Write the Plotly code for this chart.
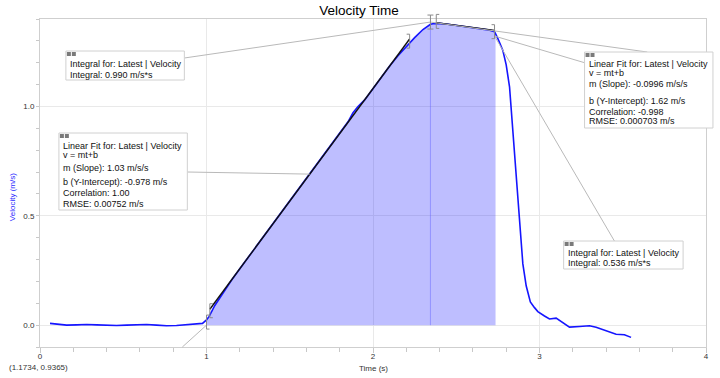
import plotly.graph_objects as go

# ---------------- data ----------------
time = [0.06, 0.10, 0.16, 0.22, 0.28, 0.34, 0.40, 0.46, 0.52, 0.58, 0.64, 0.70, 0.76, 0.82, 0.88, 0.94, 0.976,
        1.0, 1.016, 1.05, 1.10, 1.15, 1.20, 1.25, 1.30, 1.35, 1.40, 1.45, 1.50, 1.55, 1.60, 1.65, 1.70, 1.75,
        1.80, 1.85, 1.88, 1.91, 1.95, 2.00, 2.05, 2.10, 2.15, 2.20, 2.25, 2.30, 2.33, 2.345, 2.36, 2.40, 2.45,
        2.50, 2.55, 2.60, 2.65, 2.70, 2.73, 2.736, 2.75, 2.78, 2.80, 2.82, 2.835, 2.85, 2.865, 2.88, 2.90, 2.92,
        2.945, 2.97, 2.99, 3.03, 3.06, 3.10, 3.14, 3.18, 3.24, 3.30, 3.34, 3.38, 3.42, 3.46, 3.51, 3.55]
velocity = [0.008, 0.004, 0.0, 0.001, 0.003, 0.001, -0.002, -0.002, 0.0, 0.002, 0.003, 0.0, -0.003, -0.002, 0.001, 0.003, 0.008,
            0.024, 0.040, 0.090, 0.150, 0.205, 0.258, 0.310, 0.362, 0.412, 0.464, 0.516, 0.567, 0.619, 0.670, 0.722, 0.773, 0.825,
            0.876, 0.930, 0.972, 1.000, 1.030, 1.082, 1.134, 1.185, 1.232, 1.275, 1.315, 1.352, 1.370, 1.376, 1.378, 1.380, 1.376,
            1.371, 1.366, 1.361, 1.356, 1.349, 1.342, 1.333, 1.310, 1.256, 1.190, 1.090, 0.930, 0.780, 0.630, 0.480, 0.280, 0.180,
            0.106, 0.080, 0.062, 0.042, 0.028, 0.032, 0.012, -0.009, -0.006, -0.003, -0.010, -0.020, -0.033, -0.042, -0.044, -0.056]

integral_ranges = [(1.0, 2.345), (2.345, 2.736)]
integral_labels = ["Integral: 0.990 m/s*s", "Integral: 0.536 m/s*s"]

fit_slopes = [1.03, -0.0996]
fit_intercepts = [-0.978, 1.62]
fit_ranges = [(1.02, 2.22), (2.38, 2.73)]
fit1_lines = ["Linear Fit for: Latest | Velocity", "v = mt+b", "m (Slope): 1.03 m/s/s",
              "b (Y-Intercept): -0.978 m/s", "Correlation: 1.00", "RMSE: 0.00752 m/s"]
fit2_lines = ["Linear Fit for: Latest | Velocity", "v = mt+b", "m (Slope): -0.0996 m/s/s",
              "b (Y-Intercept): 1.62 m/s", "Correlation: -0.998", "RMSE: 0.000703 m/s"]

x_ticks = [0, 1, 2, 3, 4]
y_ticks = [0.0, 0.5, 1.0]
y_ticktext = ["0.0", "0.5", "1.0"]

# ---------------- geometry helpers ----------------
W, H = 720, 378
L, R, T, B = 40, 709, 19, 347
XR = (0, 4)
YR = (-0.1, 1.4)
FONT = "Liberation Sans, Arial, sans-serif"
GRAY = "#b9b9b9"


def d2px(t, v):
    return (L + (t - XR[0]) / (XR[1] - XR[0]) * (R - L),
            B - (v - YR[0]) / (YR[1] - YR[0]) * (B - T))


def px2p(px, py):
    return ((px - L) / (R - L), (B - py) / (B - T))


def interp(t):
    for i in range(len(time) - 1):
        if time[i] <= t <= time[i + 1]:
            f = (t - time[i]) / (time[i + 1] - time[i])
            return velocity[i] + f * (velocity[i + 1] - velocity[i])
    return velocity[-1]


fig = go.Figure()

# integral fills
for lo, hi in integral_ranges:
    xs = [t for t in time if lo <= t <= hi]
    ys = [v for t, v in zip(time, velocity) if lo <= t <= hi]
    fig.add_trace(go.Scatter(x=xs, y=ys, mode="lines", fill="tozeroy",
                             fillcolor="rgba(40,40,255,0.30)", line=dict(width=0),
                             hoverinfo="skip", showlegend=False))

# boundary line between integrals
tb = integral_ranges[0][1]
fig.add_trace(go.Scatter(x=[tb, tb], y=[0, interp(tb)], mode="lines",
                         line=dict(color="rgba(90,90,255,0.45)", width=1),
                         hoverinfo="skip", showlegend=False))

# velocity curve
fig.add_trace(go.Scatter(x=time, y=velocity, mode="lines",
                         line=dict(color="#1515ff", width=1.6), showlegend=False))

# linear fits
for m, b, (lo, hi) in zip(fit_slopes, fit_intercepts, fit_ranges):
    fig.add_trace(go.Scatter(x=[lo, hi], y=[m * lo + b, m * hi + b], mode="lines",
                             line=dict(color="#111111", width=1.4), showlegend=False))

shapes = []
annotations = []


def seg_px(x0, y0, x1, y1, color=GRAY, width=1):
    a = px2p(x0, y0)
    b = px2p(x1, y1)
    shapes.append(dict(type="line", xref="paper", yref="paper", x0=a[0], y0=a[1], x1=b[0], y1=b[1],
                       line=dict(color=color, width=width)))


def bracket(t, v, kind):
    px, py = d2px(t, v)
    h, w = 7, 3
    c = "#8a8a8a"
    seg_px(px, py - h, px, py + h, c)
    if kind in ("[", "I"):
        seg_px(px, py - h, px + w, py - h, c)
        seg_px(px, py + h, px + w, py + h, c)
    if kind in ("]", "I"):
        seg_px(px, py - h, px - w, py - h, c)
        seg_px(px, py + h, px - w, py + h, c)


# leader lines
peak_px = d2px(integral_ranges[0][1], interp(integral_ranges[0][1]) + 0.01)
end_px = d2px(fit_ranges[1][1], interp(fit_ranges[1][1]) - 0.02)
mid1 = (fit_ranges[0][0] + fit_ranges[0][1]) / 2
mid1_px = d2px(mid1, fit_slopes[0] * mid1 + fit_intercepts[0])
seg_px(185, 58, *peak_px)
seg_px(188, 172, *mid1_px)
seg_px(*peak_px, 650, 52)
seg_px(*end_px, 588, 63)
seg_px(*end_px, 617, 241)
seg_px(183, 347, *d2px(1.0, 0.0))

# brackets
bracket(integral_ranges[0][0], interp(integral_ranges[0][0]) - 0.01, "[")
bracket(fit_ranges[0][0], interp(fit_ranges[0][0]) + 0.02, "[")
bracket(fit_ranges[0][1], fit_slopes[0] * fit_ranges[0][1] + fit_intercepts[0] - 0.01, "]")
bracket(integral_ranges[0][1], interp(integral_ranges[0][1]) + 0.01, "I")
bracket(fit_ranges[1][0], interp(fit_ranges[1][0]) + 0.01, "[")
bracket(fit_ranges[1][1], interp(fit_ranges[1][1]), "]")


def box(x0, y0, x1, y1, lines, ys, tx):
    a = px2p(x0, y0)
    b = px2p(x1, y1)
    shapes.append(dict(type="rect", xref="paper", yref="paper", x0=a[0], y0=a[1], x1=b[0], y1=b[1],
                       fillcolor="white", line=dict(color="#d0d0d0", width=1)))
    for k in range(2):
        c0 = px2p(x0 + 1 + 5 * k, y0 + 1)
        c1 = px2p(x0 + 5 + 5 * k, y0 + 5)
        shapes.append(dict(type="rect", xref="paper", yref="paper", x0=c0[0], y0=c0[1], x1=c1[0], y1=c1[1],
                           fillcolor="#7a7a7a", line=dict(width=0)))
    for text, y in zip(lines, ys):
        p = px2p(tx, y)
        annotations.append(dict(text=text, xref="paper", yref="paper", x=p[0], y=p[1],
                                xanchor="left", yanchor="middle", showarrow=False,
                                font=dict(family=FONT, size=9, color="#111111")))


box(66, 51, 185, 80, ["Integral for: Latest | Velocity", integral_labels[0]], [64, 75], 68)
box(59, 133, 188, 210, fit1_lines, [146, 155, 168, 182, 193, 204], 61)
box(587, 52, 716, 128, fit2_lines, [64, 73, 84, 101, 112, 121], 589)
box(566, 241, 686, 269, ["Integral for: Latest | Velocity", integral_labels[1]], [253, 263], 568)

# axis titles and coordinate readout
p = px2p(12, 197)
annotations.append(dict(text="Velocity (m/s)", xref="paper", yref="paper", x=p[0], y=p[1],
                        textangle=-90, showarrow=False, xanchor="center", yanchor="middle",
                        font=dict(family=FONT, size=8, color="#2a2aff")))
p = px2p(375, 368)
annotations.append(dict(text="Time (s)", xref="paper", yref="paper", x=p[0], y=p[1],
                        showarrow=False, xanchor="center", yanchor="middle",
                        font=dict(family=FONT, size=8, color="#333333")))
p = px2p(7, 367)
annotations.append(dict(text="(1.1734, 0.9365)", xref="paper", yref="paper", x=p[0], y=p[1],
                        showarrow=False, xanchor="left", yanchor="middle",
                        font=dict(family=FONT, size=8, color="#333333")))

fig.update_layout(
    width=W, height=H,
    margin=dict(l=L, r=W - R, t=T, b=H - B, pad=0),
    paper_bgcolor="white", plot_bgcolor="white",
    title=dict(text="Velocity Time", x=359 / W, xanchor="center", xref="container",
               y=1 - 10 / H, yref="container", yanchor="middle",
               font=dict(family=FONT, size=13.5, color="#000000")),
    xaxis=dict(range=list(XR), tickmode="array", tickvals=x_ticks, ticktext=[str(v) for v in x_ticks],
               showgrid=True, gridcolor="#e9e9e9", gridwidth=1, zeroline=False,
               showline=True, linecolor="#cfcfcf", mirror=True,
               ticks="outside", ticklen=5, tickcolor="#c8c8c8",
               ticklabelstandoff=-4,
               tickfont=dict(family=FONT, size=8, color="#333333"),
               minor=dict(tickmode="linear", tick0=0, dtick=0.2, ticks="outside", ticklen=4,
                          tickcolor="#c8c8c8", showgrid=False)),
    yaxis=dict(range=list(YR), tickmode="array", tickvals=y_ticks, ticktext=y_ticktext,
               showgrid=True, gridcolor="#e9e9e9", gridwidth=1, zeroline=False,
               showline=True, linecolor="#cfcfcf", mirror=True,
               ticks="outside", ticklen=3, tickcolor="#c8c8c8",
               tickfont=dict(family=FONT, size=8, color="#333333"),
               minor=dict(tickmode="linear", tick0=0, dtick=0.1, ticks="outside", ticklen=3,
                          tickcolor="#c8c8c8", showgrid=False)),
    shapes=shapes,
    annotations=annotations,
    showlegend=False,
)

fig.write_html("out.html",
               config={"displayModeBar": False},
               post_script="document.body.style.margin='0';document.body.style.padding='0';"
                           "document.body.style.overflow='hidden';")
